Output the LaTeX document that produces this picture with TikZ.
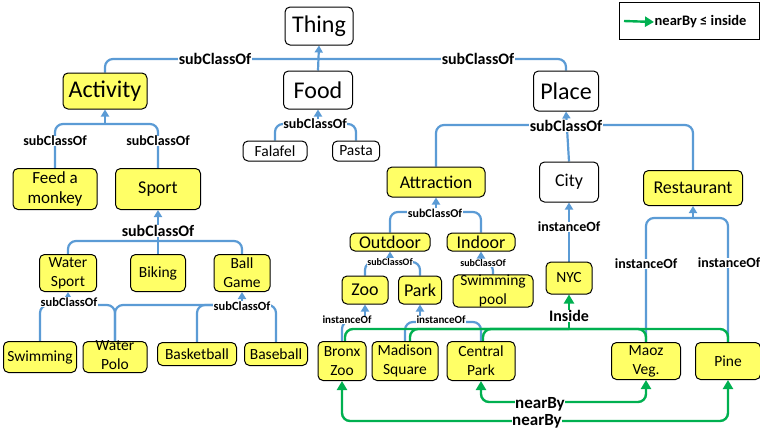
\documentclass[tikz,border=0pt]{standalone}
\usepackage{fontspec}
\setmainfont{Carlito}
\usetikzlibrary{arrows.meta, positioning}

\definecolor{boxyellow}{RGB}{255,255,102}
\definecolor{linkblue}{RGB}{91,155,213}
\definecolor{linkgreen}{RGB}{0,176,80}

\tikzset{
  cls/.style={draw, rounded corners=5pt, line width=1pt, fill=white, align=center, inner sep=1pt},
  ind/.style={cls, fill=boxyellow},
  big/.style={font=\fontsize{24}{27}\selectfont},
  mid/.style={font=\fontsize{18}{20}\selectfont},
  sml/.style={font=\fontsize{15.5}{19}\selectfont},
  rel/.style={fill=white, inner sep=0.5pt, font=\bfseries\fontsize{#1}{#1}\selectfont},
  rel/.default=14,
  sub/.style={draw=linkblue, line width=2.2pt, rounded corners=8pt},
  up/.style={-{Triangle[width=8pt, length=7pt]}},
  near/.style={draw=linkgreen, line width=2.4pt, rounded corners=8pt},
  gt/.tip={Triangle[width=10pt, length=9pt]},
  gtip/.style={-gt},
  both/.style={gt-gt},
}

\begin{document}
\begin{tikzpicture}[x=1pt, y=-1pt]

\pgfdeclarelayer{bg}    % lines go under the labels
\pgfsetlayers{bg,main}

\useasboundingbox (0,0) rectangle (760,429);

% classes
\node (thing)[cls, big, minimum width=68pt, minimum height=38pt] at (319, 26) {Thing};
\node (activity)[ind, big, minimum width=84pt, minimum height=36pt] at (105, 91) {Activity};
\node (food)[cls, big, minimum width=69pt, minimum height=38pt] at (318, 90) {Food};
\node (place)[cls, big, minimum width=65pt, minimum height=40pt] at (566, 91) {Place};
\node (falafel)[cls, sml, minimum width=64pt, minimum height=20pt] at (275, 151) {Falafel};
\node (pasta)[cls, sml, minimum width=47pt, minimum height=20pt] at (356, 151) {Pasta};
\node (feed)[ind, mid, font=\fontsize{17}{20}\selectfont, minimum width=84pt, minimum height=41pt] at (55, 189) {Feed a\\monkey};
\node (sport)[ind, mid, minimum width=85pt, minimum height=41pt] at (158, 189) {Sport};
\node (watersport)[ind, sml, minimum width=57pt, minimum height=37pt] at (68, 273) {Water\\Sport};
\node (biking)[ind, sml, minimum width=55pt, minimum height=37pt] at (158, 273) {Biking};
\node (ballgame)[ind, sml, minimum width=56pt, minimum height=37pt] at (242, 273) {Ball\\Game};
\node (swimming)[ind, sml, minimum width=73pt, minimum height=31pt] at (40, 357) {Swimming};
\node (waterpolo)[ind, sml, minimum width=64pt, minimum height=31pt, text height=26pt] at (115, 357) {Water\\Polo};
\node (basketball)[ind, sml, minimum width=79pt, minimum height=23pt] at (197, 354) {Basketball};
\node (baseball)[ind, sml, minimum width=63pt, minimum height=23pt] at (276, 354) {Baseball};
\node (attraction)[ind, mid, minimum width=98pt, minimum height=30pt] at (436, 182) {Attraction};
\node (city)[cls, mid, minimum width=59pt, minimum height=40pt] at (569, 182) {City};
\node (restaurant)[ind, mid, minimum width=99pt, minimum height=35pt] at (693, 188) {Restaurant};
\node (outdoor)[ind, mid, minimum width=80pt, minimum height=18pt, inner sep=0pt] at (390, 242) {Outdoor};
\node (indoor)[ind, mid, minimum width=68pt, minimum height=18pt, inner sep=0pt] at (481, 242) {Indoor};
\node (zoo)[ind, mid, minimum width=46pt, minimum height=28pt] at (365, 290) {Zoo};
\node (park)[ind, mid, minimum width=43pt, minimum height=28pt] at (420, 290) {Park};
\node (pool)[ind, sml, minimum width=80pt, minimum height=31pt, inner sep=0pt] at (493, 291) {Swimming\\pool};

% instances
\node (nyc)[ind, sml, minimum width=46pt, minimum height=32pt] at (569, 278) {NYC};
\node (bronx)[ind, sml, minimum width=48pt, minimum height=39pt] at (342, 361) {Bronx\\Zoo};
\node (madison)[ind, sml, minimum width=66pt, minimum height=39pt] at (405, 361) {Madison\\Square};
\node (central)[ind, sml, minimum width=68pt, minimum height=39pt] at (481, 361) {Central\\Park};
\node (maoz)[ind, sml, minimum width=69pt, minimum height=37pt] at (646, 361) {Maoz\\Veg.};
\node (pine)[ind, sml, minimum width=65pt, minimum height=37pt] at (728, 361) {Pine};

% junctions
\coordinate (jthing) at (319, 59);
\coordinate (jfood) at (318, 124);
\coordinate (jact) at (105, 124);
\coordinate (jsport) at (158, 241);
\coordinate (jws) at (68, 305);
\coordinate (jbg) at (242, 305);
\coordinate (jplace) at (566, 125);
\coordinate (jattr) at (436, 212);
\coordinate (jout) at (390, 262);
\coordinate (jin) at (481, 263);
\coordinate (jrest) at (693, 218);
\coordinate (jzoo) at (365, 321);
\coordinate (jpark) at (420, 322);
\coordinate (inside) at (569, 329);
\coordinate (nb1) at (540, 402);
\coordinate (nb2) at (537, 421);

% labels
\node (l1)[rel=16] at (215, 59) {subClassOf};
\node (l2)[rel=16] at (478, 59) {subClassOf};
\node (l3)[rel=14] at (315, 124) {subClassOf};
\node (l4)[rel=14] at (55, 141) {subClassOf};
\node (l5)[rel=14] at (158, 141) {subClassOf};
\node (l6)[rel=16] at (158, 231) {subClassOf};
\node (l7)[rel=12.5] at (69, 302) {subClassOf};
\node (l8)[rel=12.5] at (242, 306) {subClassOf};
\node (l9)[rel=16] at (566, 126) {subClassOf};
\node (l10)[rel=12] at (435, 213) {subClassOf};
\node (l11)[rel=10] at (390, 262) {subClassOf};
\node (l12)[rel=10] at (483, 263) {subClassOf};
\node (l13)[rel=14] at (569, 227) {instanceOf};
\node (l14)[rel=14] at (646, 264) {instanceOf};
\node (l15)[rel=14] at (729, 263) {instanceOf};
\node (l16)[rel=11] at (347, 320) {instanceOf};
\node (l17)[rel=11] at (441, 320) {instanceOf};
\node (l18)[rel=16] at (569, 316) {Inside};
\node (l19)[rel=17] at (540, 404) {nearBy};
\node (l20)[rel=17] at (537, 421) {nearBy};

% legend
\node (legend)[draw, line width=0.8pt, minimum width=140pt, minimum height=37pt] at (689, 21) {};
\node (legtxt)[rel=14.5, fill=none, anchor=west] at (654, 22) {nearBy ≤ inside};
\coordinate (legstart) at (624, 21);
\draw[near, gtip] (legstart) -- (legtxt.west);

\begin{pgfonlayer}{bg}
\draw[sub] (activity.north) |- (jthing);
\draw[sub] (place.north) |- (jthing);
\draw[sub, up] (food.north) -- (thing.south);

\draw[sub] (falafel.north) |- (jfood);
\draw[sub] (pasta.north) |- (jfood);
\draw[sub, up] (jfood) -- (food.south);

\draw[sub] (feed.north) |- (jact);
\draw[sub] (sport.north) |- (jact);
\draw[sub, up] (jact) -- (activity.south);

\draw[sub] (watersport.north) |- (jsport);
\draw[sub] (ballgame.north) |- (jsport);
\draw[sub, up] (biking.north) -- (sport.south);

\draw[sub] (swimming.north) |- (jws);
\draw[sub] (waterpolo.north) |- (jws);
\draw[sub, up] (jws) -- (watersport.south);
\draw[sub] (waterpolo.north) |- (jbg);
\draw[sub] (basketball.north) |- (jbg);
\draw[sub] (baseball.north) |- (jbg);
\draw[sub, up] (jbg) -- (ballgame.south);

\draw[sub] (attraction.north) |- (jplace);
\draw[sub] (restaurant.north) |- (jplace);
\draw[sub, up] (city.north) -- (place.south);

\draw[sub] (outdoor.north) |- (jattr);
\draw[sub] (indoor.north) |- (jattr);
\draw[sub, up] (jattr) -- (attraction.south);

\draw[sub] (zoo.north) |- (jout);
\draw[sub] (park.north) |- (jout);
\draw[sub, up] (jout) -- (outdoor.south);
\draw[sub] (pool.north) |- (jin);
\draw[sub, up] (jin) -- (indoor.south);

\draw[sub, up] (nyc.north) -- (city.south);
\draw[sub] (maoz.north) |- (jrest);
\draw[sub] (pine.north) |- (jrest);
\draw[sub, up] (jrest) -- (restaurant.south);

\draw[sub] (bronx.north) |- (jzoo);
\draw[sub, up] (jzoo) -- (zoo.south);
\draw[sub] (madison.north) |- (jpark);
\draw[sub] (central.north) |- (jpark);
\draw[sub, up] (jpark) -- (park.south);

% inside / nearBy
\draw[near] ([xshift=3pt]bronx.north) |- (inside);
\draw[near] ([xshift=5pt]madison.north) |- (inside);
\draw[near] ([xshift=2pt]central.north) |- (inside);
\draw[near] (maoz.north) |- (inside);
\draw[near] (pine.north) |- (inside);
\draw[near, gtip] (inside) -- (nyc.south);
\draw[near, both] (central.south) |- (nb1) -| (maoz.south);
\draw[near, both] (bronx.south) |- (nb2) -| (pine.south);
\end{pgfonlayer}
\end{tikzpicture}
\end{document}
